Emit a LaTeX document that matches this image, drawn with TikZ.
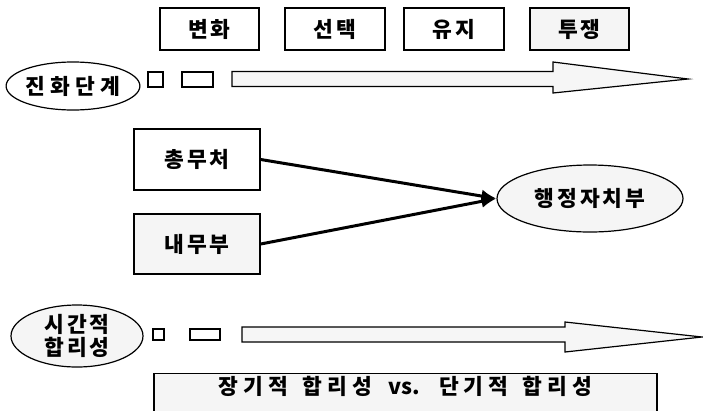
\documentclass[tikz,border=0pt]{standalone}
\usepackage{fontspec}
\newfontfamily\kr{Noto Sans CJK KR}[LetterSpace=14]
\newfontfamily\krwide{Noto Sans CJK KR}[LetterSpace=24]
\newfontfamily\krlat{Noto Sans CJK KR}
\usetikzlibrary{shapes.geometric,arrows.meta}

\begin{document}
\begin{tikzpicture}[x=1pt,y=-1pt,
  font=\kr\bfseries\fontsize{21.5}{23}\selectfont,
  box/.style={draw, line width=1.4pt, inner sep=0pt},
  oval/.style={ellipse, draw, line width=1.2pt, inner sep=0pt},
  shade/.style={fill=gray!8},
  bigarrow/.style={draw, line width=1.2pt, fill=gray!7}]
\useasboundingbox (0,0) rectangle (703,410);

\node[box, minimum width=99pt, minimum height=42pt] (bh) at (209.5,29) {변화};
\node[box, minimum width=100pt, minimum height=42pt] (st) at (335,29) {선택};
\node[box, minimum width=100pt, minimum height=42pt] (yj) at (454,29) {유지};
\node[box, shade, minimum width=99pt, minimum height=42pt] (tj) at (579.5,29) {투쟁};

\node[oval, minimum width=128pt, minimum height=48pt] (jh) at (73,86) {\krwide\bfseries 진화단계};
\draw[line width=1.2pt] (148,72) rectangle (163,87);
\draw[line width=1.2pt] (182,72) rectangle (213,87);
\draw[bigarrow] (232,71.5) -- (553,71.5) -- (553,62) -- (688,79)
  -- (553,93) -- (553,86.5) -- (232,86.5) -- cycle;

\node[box, minimum width=126pt, minimum height=61pt] (cm) at (197,159.5) {총무처};
\node[box, shade, minimum width=126pt, minimum height=60pt] (nm) at (197,244) {내무부};
\node[oval, shade, minimum width=186pt, minimum height=67pt] (hj) at (590,198.5) {행정자치부};
\draw[line width=3pt, -{Latex[length=15pt,width=13pt]}] (cm.east) -- (hj.west);
\draw[line width=3pt, -{Latex[length=15pt,width=13pt]}] (nm.east) -- (hj.west);

\node[oval, shade, minimum width=132pt, minimum height=62pt, align=center] (sg) at (77,336) {시간적\\합리성};
\draw[line width=1.2pt] (153,329) rectangle (164,340);
\draw[line width=1.2pt] (190,329) rectangle (220,340);
\draw[bigarrow] (242,327) -- (565,327) -- (565,322) -- (702,337)
  -- (565,352) -- (565,342) -- (242,342) -- cycle;

\node[box, shade, anchor=north, minimum width=503pt, text height=21pt, text depth=26pt] (jd) at (405.5,373) {\krwide\bfseries 장기적\hspace{4pt} 합리성\hspace{6pt} {\krlat\bfseries vs.}\hspace{6pt} 단기적\hspace{4pt} 합리성};

\end{tikzpicture}
\end{document}
